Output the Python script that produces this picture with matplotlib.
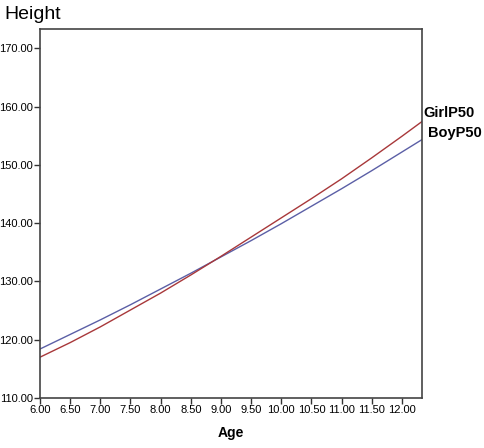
import numpy as np
import matplotlib
matplotlib.use("Agg")
from matplotlib import pyplot as plt
import matplotlib.transforms as mtransforms

# median height curves
ages = [6.0, 6.5, 7.0, 7.5, 8.0, 8.5, 9.0, 9.5, 10.0, 10.5, 11.0, 11.5, 12.0, 12.5]
boy_p50 = [118.4, 120.9, 123.4, 126.0, 128.7, 131.4, 134.2, 137.0, 139.9, 142.9, 145.9, 149.0, 152.2, 155.4]
girl_p50 = [117.0, 119.5, 122.2, 125.1, 128.0, 131.1, 134.3, 137.6, 140.9, 144.2, 147.6, 151.2, 154.9, 158.7]
x_ticks = [6.0, 6.5, 7.0, 7.5, 8.0, 8.5, 9.0, 9.5, 10.0, 10.5, 11.0, 11.5, 12.0]
y_ticks = [110, 120, 130, 140, 150, 160, 170]

plt.rcParams['font.family'] = ['Liberation Sans', 'DejaVu Sans']

fig = plt.figure(figsize=(4.84, 4.48), dpi=100)
ax = fig.add_axes([0.0826, 0.1116, 0.789, 0.8237])

ax.plot(ages, boy_p50, color='#5b5fa6', lw=1.0)
ax.plot(ages, girl_p50, color='#a8383a', lw=1.0)

ax.set_xlim(6.0, 12.33)
ax.set_ylim(110, 173.3)
ax.set_xticks(x_ticks)
ax.set_yticks(y_ticks)
ax.set_xticklabels(['%.2f' % v for v in x_ticks], fontsize=8)
ax.set_yticklabels(['%.2f' % v for v in y_ticks], fontsize=8)
ax.tick_params(direction='out', length=4, width=1.0, color='#333333', pad=1)

for s in ax.spines.values():
    s.set_color('#444444')
    s.set_linewidth(1.2)

# series labels just outside the right edge
trans = mtransforms.blended_transform_factory(ax.transAxes, ax.transData)
ax.text(1.005, 158.9, 'GirlP50', transform=trans, fontsize=10.5, fontweight='bold',
        va='center', ha='left', clip_on=False)
ax.text(1.015, 155.4, 'BoyP50', transform=trans, fontsize=10.5, fontweight='bold',
        va='center', ha='left', clip_on=False)

ax.set_xlabel('Age', fontsize=10, fontweight='bold', labelpad=8)
fig.text(0.01, 0.968, 'Height', fontsize=14, va='center', ha='left')

fig.savefig('out.png', dpi=100)
